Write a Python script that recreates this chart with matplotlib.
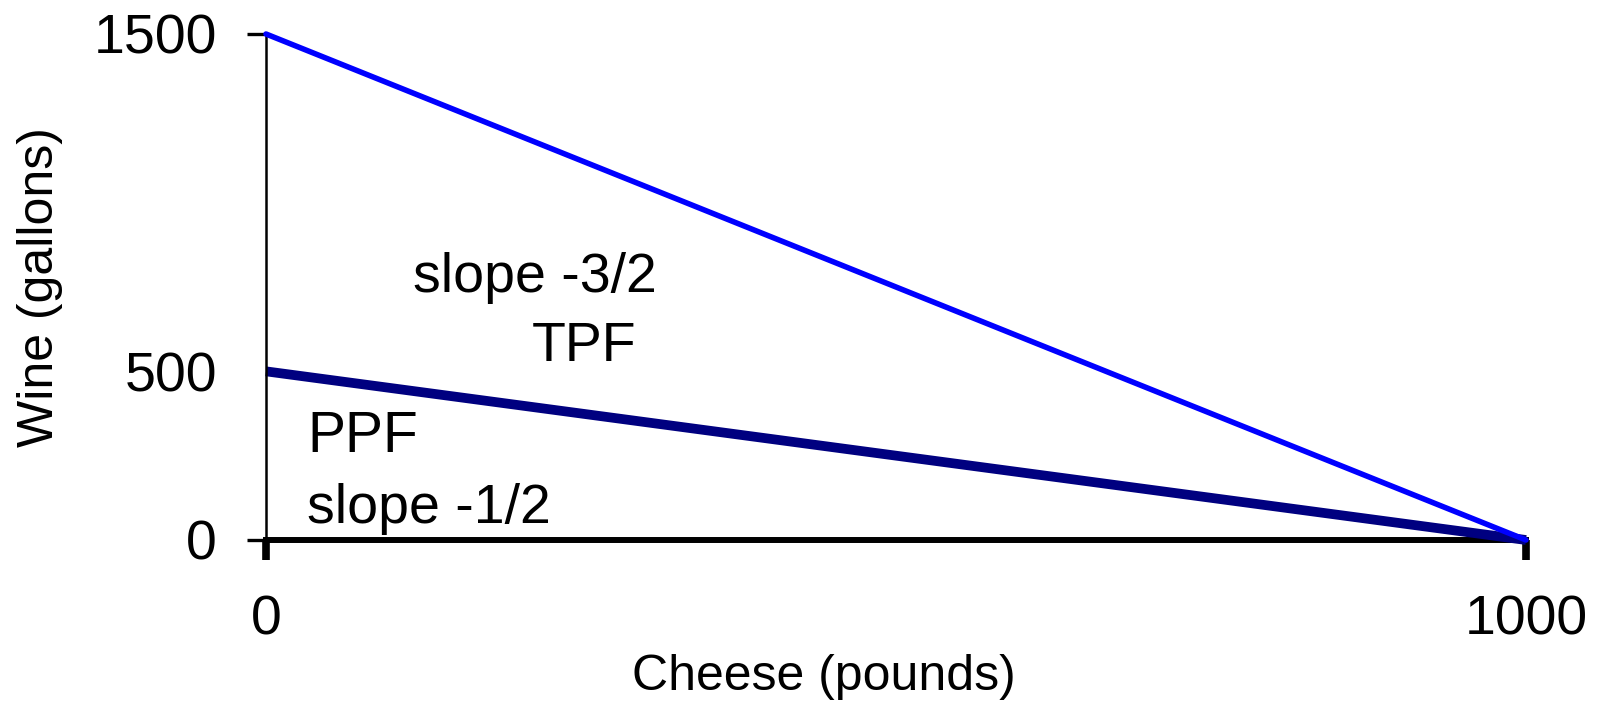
import matplotlib
matplotlib.use("Agg")
import matplotlib.pyplot as plt

plt.rcParams.update({
    "font.family": ["Liberation Sans", "DejaVu Sans"],
})

# data
cheese = [0, 1000]
tpf_wine = [1500, 0]
ppf_wine = [500, 0]
x_ticks = [0, 1000]
y_ticks = [0, 500, 1500]

fig = plt.figure(figsize=(15.97, 7.07), dpi=100)
ax = fig.add_axes([266 / 1597, 1 - 540 / 707, 1260 / 1597, 506 / 707])

ax.plot(cheese, tpf_wine, color="#0000FF", lw=4.0, solid_capstyle="round", clip_on=False, zorder=3)
ax.plot(cheese, ppf_wine, color="#000080", lw=7.0, solid_capstyle="butt", clip_on=False, zorder=2)

ax.set_xlim(0, 1000)
ax.set_ylim(0, 1500)

for s in ["top", "right"]:
    ax.spines[s].set_visible(False)
ax.spines["left"].set_linewidth(1.8)
ax.spines["bottom"].set_linewidth(4.3)
ax.spines["bottom"].set_zorder(1)

ax.set_xticks(x_ticks)
ax.set_xticklabels([str(v) for v in x_ticks])
ax.set_yticks(y_ticks)
ax.set_yticklabels([str(v) for v in y_ticks])

ax.tick_params(axis="x", direction="out", length=14.4, width=5.5, labelsize=40, pad=25)
ax.tick_params(axis="y", direction="out", length=13.7, width=2.4, labelsize=40, pad=21.6)
for t in ax.xaxis.get_major_ticks():
    t.tick1line.set_solid_capstyle("round")
# no tick mark at 500
ax.yaxis.get_major_ticks()[1].tick1line.set_visible(False)

ax.set_xlabel("Cheese (pounds)", fontsize=36, va="baseline", ha="center")
ax.xaxis.set_label_coords(0.443, -0.296)
ax.set_ylabel("Wine (gallons)", fontsize=36)
ax.yaxis.set_label_coords(-0.161, 0.5)

ax.text(116.7, 735, "slope -3/2", fontsize=40, ha="left", va="baseline")
ax.text(211, 531, "TPF", fontsize=40, ha="left", va="baseline")
ax.text(32.5, 261, "PPF", fontsize=41, ha="left", va="baseline")
ax.text(32.5, 50, "slope -1/2", fontsize=40, ha="left", va="baseline")

fig.savefig("out.png", dpi=100)
